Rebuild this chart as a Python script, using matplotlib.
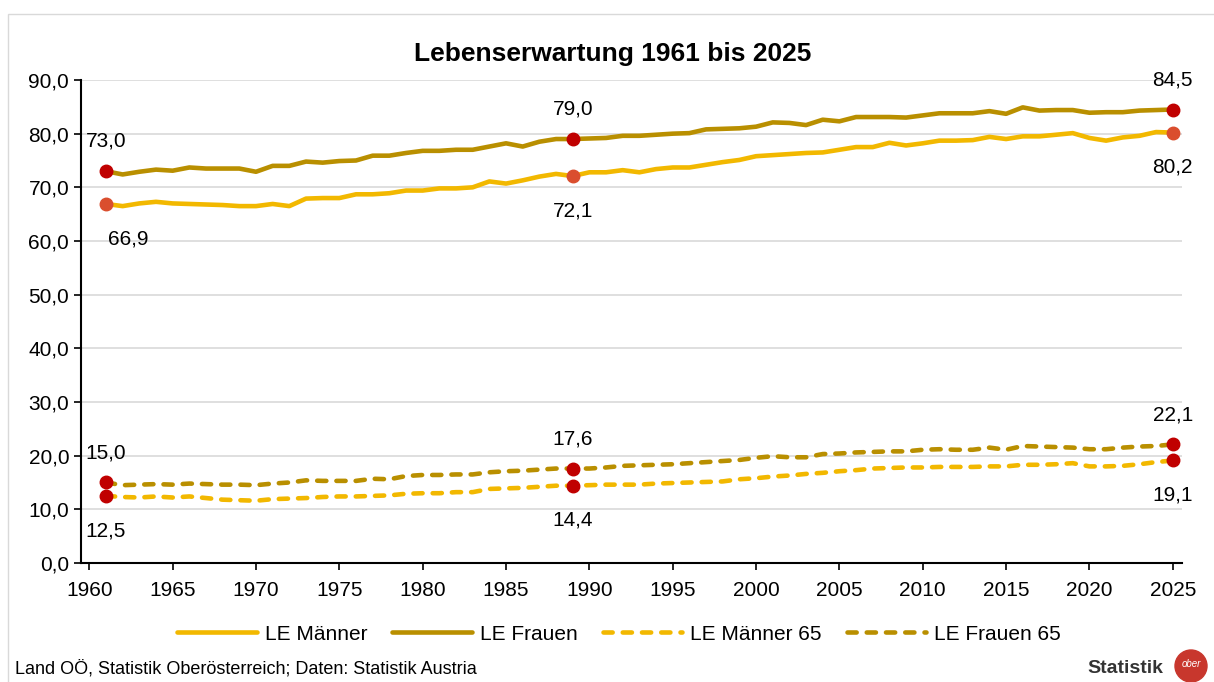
"""
Lebenserwartung in Oberösterreich 1961 bis 2025
"""

import numpy as np
from matplotlib import pyplot as plt
from matplotlib.patches import Ellipse, Rectangle
from matplotlib.ticker import FuncFormatter

plt.rcParams['font.family'] = ['Liberation Sans', 'DejaVu Sans']

# years 1961 .. 2025
years = np.arange(1961, 2026)

le_maenner = [66.9, 66.5, 67.0, 67.3, 67.0, 66.9, 66.8, 66.7, 66.5, 66.5,
              66.9, 66.5, 67.9, 68.0, 68.0, 68.7, 68.7, 68.9, 69.4, 69.4,
              69.8, 69.8, 70.0, 71.1, 70.7, 71.3, 72.0, 72.5, 72.1, 72.8,
              72.8, 73.2, 72.8, 73.4, 73.7, 73.7, 74.2, 74.7, 75.1, 75.8,
              76.0, 76.2, 76.4, 76.5, 77.0, 77.5, 77.5, 78.3, 77.8, 78.2,
              78.7, 78.7, 78.8, 79.4, 79.0, 79.5, 79.5, 79.8, 80.1, 79.2,
              78.7, 79.3, 79.6, 80.3, 80.2]

le_frauen = [73.0, 72.4, 72.9, 73.3, 73.1, 73.7, 73.5, 73.5, 73.5, 72.9,
             74.0, 74.0, 74.8, 74.6, 74.9, 75.0, 75.9, 75.9, 76.4, 76.8,
             76.8, 77.0, 77.0, 77.6, 78.2, 77.6, 78.5, 79.0, 79.0, 79.1,
             79.2, 79.6, 79.6, 79.8, 80.0, 80.1, 80.8, 80.9, 81.0, 81.3,
             82.1, 82.0, 81.6, 82.6, 82.3, 83.1, 83.1, 83.1, 83.0, 83.4,
             83.8, 83.8, 83.8, 84.2, 83.7, 84.9, 84.3, 84.4, 84.4, 83.9,
             84.0, 84.0, 84.3, 84.4, 84.5]

le_maenner_65 = [12.5, 12.3, 12.2, 12.4, 12.2, 12.4, 12.1, 11.8, 11.7, 11.6,
                 11.9, 12.0, 12.1, 12.3, 12.4, 12.4, 12.5, 12.6, 12.9, 13.0,
                 13.0, 13.2, 13.2, 13.8, 13.9, 14.0, 14.2, 14.4, 14.4, 14.5,
                 14.6, 14.6, 14.6, 14.8, 14.9, 15.0, 15.1, 15.2, 15.6, 15.8,
                 16.1, 16.3, 16.6, 16.8, 17.1, 17.3, 17.6, 17.7, 17.8, 17.8,
                 17.9, 17.9, 17.9, 18.0, 18.0, 18.3, 18.3, 18.4, 18.6, 18.0,
                 18.0, 18.1, 18.4, 18.8, 19.1]

le_frauen_65 = [15.0, 14.5, 14.6, 14.7, 14.6, 14.8, 14.7, 14.6, 14.6, 14.5,
                14.8, 15.0, 15.4, 15.3, 15.3, 15.3, 15.7, 15.6, 16.2, 16.4,
                16.4, 16.5, 16.5, 16.9, 17.1, 17.2, 17.4, 17.6, 17.6, 17.6,
                17.8, 18.1, 18.2, 18.3, 18.4, 18.6, 18.8, 19.0, 19.2, 19.6,
                19.9, 19.7, 19.7, 20.3, 20.4, 20.6, 20.7, 20.8, 20.8, 21.1,
                21.2, 21.1, 21.1, 21.5, 21.1, 21.8, 21.7, 21.6, 21.5, 21.2,
                21.2, 21.5, 21.7, 21.8, 22.1]

labels = ["LE Männer", "LE Frauen", "LE Männer 65", "LE Frauen 65"]
highlight_years = [1961, 1989, 2025]

yellow = "#F2B800"
darkgold = "#B98F00"
red = "#C00000"
orange_red = "#DA4E2E"

fig = plt.figure(figsize=(12.14, 6.82), dpi=100)
ax = fig.add_axes([0.0667, 0.1745, 0.9069, 0.7082])

series = [le_maenner, le_frauen, le_maenner_65, le_frauen_65]
colors = [yellow, darkgold, yellow, darkgold]
dashed = [False, False, True, True]
marker_colors = [orange_red, red, red, red]
above = [False, True, False, True]

for vals, col, dash, lab in zip(series, colors, dashed, labels):
    line, = ax.plot(years, vals, color=col, lw=3.3, label=lab,
                    solid_capstyle="round", dash_capstyle="round")
    if dash:
        line.set_dashes([2.0, 2.2])

# highlighted points with value labels
for vals, mcol, up in zip(series, marker_colors, above):
    for yr in highlight_years:
        v = vals[yr - 1961]
        ax.plot(yr, v, "o", color=mcol, ms=9, zorder=5)
        dx = 0
        if yr == 1961 and vals is le_maenner:
            dx = 16
        dy = 21.5 if up else -25
        ax.annotate(f"{v:.1f}".replace(".", ","), (yr, v), xytext=(dx, dy),
                    textcoords="offset points", ha="center", va="center",
                    fontsize=15, color="black", annotation_clip=False)

ax.set_xlim(1959.5, 2025.55)
ax.set_ylim(0, 90)
ax.set_xticks(np.arange(1960, 2026, 5))
ax.set_yticks(np.arange(0, 91, 10))
ax.yaxis.set_major_formatter(FuncFormatter(lambda v, p: f"{v:.1f}".replace(".", ",")))
ax.tick_params(labelsize=15, length=5, width=1.2, color="black")
ax.tick_params(axis="x", pad=8)
ax.grid(axis="y", color="#D9D9D9", lw=1.2)
ax.set_axisbelow(True)
for s in ["top", "right"]:
    ax.spines[s].set_visible(False)
ax.spines["left"].set_linewidth(1.5)
ax.spines["bottom"].set_linewidth(1.5)

fig.text(0.505, 0.921, "Lebenserwartung 1961 bis 2025", ha="center", va="center",
         fontsize=19, fontweight="bold")

fig.legend(loc="center", bbox_to_anchor=(0.51, 0.07), ncol=4, frameon=False,
           fontsize=15, handlelength=3.8, columnspacing=1.2, handletextpad=0.4)

fig.text(0.012, 0.02, "Land OÖ, Statistik Oberösterreich; Daten: Statistik Austria",
         ha="left", va="center", fontsize=13)
fig.text(0.958, 0.02, "Statistik", ha="right", va="center", fontsize=14,
         fontweight="bold", color="#333333")
logo = Ellipse((1191 / 1214, 16 / 682), 32 / 1214, 32 / 682,
               transform=fig.transFigure, color="#C8372D", clip_on=False)
fig.patches.append(logo)
fig.text(1191 / 1214, 18 / 682, "ober", ha="center", va="center", fontsize=7,
         style="italic", color="white")

# outer chart frame
fig.patches.append(Rectangle((8 / 1214, -0.01), 1.0, 1 - 14 / 682 + 0.01,
                             transform=fig.transFigure, fill=False,
                             edgecolor="#D9D9D9", lw=1))

plt.savefig("out.png", dpi=100)
